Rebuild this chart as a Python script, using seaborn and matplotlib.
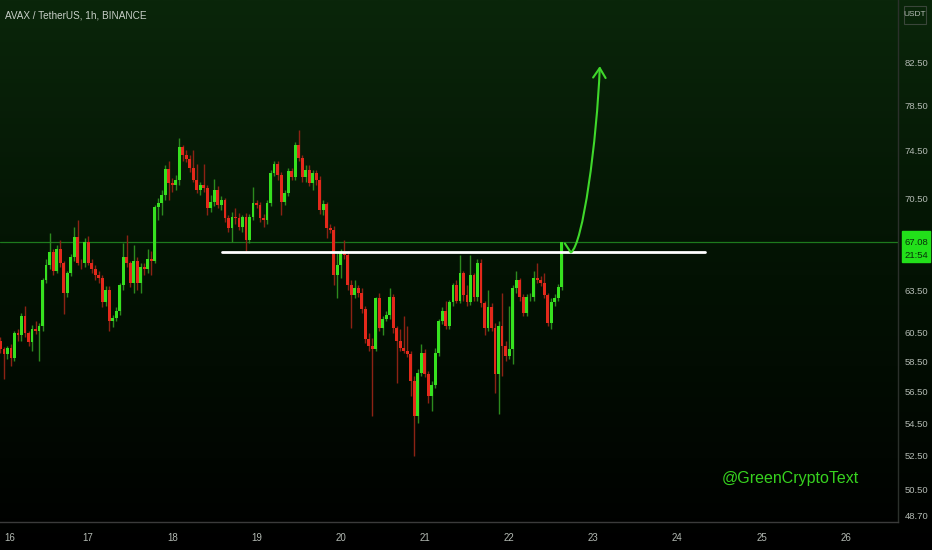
import numpy as np
import matplotlib.pyplot as plt
import seaborn as sns
from matplotlib.colors import LinearSegmentedColormap
from matplotlib.patches import FancyArrowPatch, Rectangle
from matplotlib.path import Path
from matplotlib.ticker import NullLocator

# AVAX / USDT 1h candles
first_open = 57.75
closes = [57.88, 60.47, 59.92, 59.37, 59.03, 59.44, 58.75, 60.47, 60.27, 61.67,
          60.47, 59.85, 60.75, 60.61, 60.96, 64.20, 65.32, 66.30, 64.94, 66.60,
          65.47, 63.25, 64.79, 65.92, 67.45, 65.54, 65.47, 67.07, 65.54, 65.09,
          64.57, 64.42, 62.60, 63.47, 61.31, 61.52, 62.02, 63.84, 65.92, 65.47,
          63.98, 65.69, 63.98, 65.17, 65.09, 65.84, 65.69, 69.82, 70.15, 70.79,
          72.94, 71.77, 71.61, 72.02, 74.81, 74.12, 73.85, 73.02, 72.02, 71.20,
          71.61, 71.36, 69.74, 70.23, 71.20, 69.99, 70.39, 68.95, 68.16, 69.03,
          68.95, 68.24, 69.03, 67.22, 69.03, 70.15, 69.99, 68.95, 68.79, 70.15,
          72.61, 73.43, 72.45, 70.23, 70.96, 72.78, 72.28, 74.98, 73.94, 72.28,
          72.86, 71.77, 72.61, 72.02, 69.58, 70.07, 68.16, 68.00, 64.57, 65.32,
          66.30, 66.07, 63.84, 63.11, 63.62, 63.32, 62.16, 60.06, 59.58, 59.37,
          62.89, 60.82, 61.45, 61.74, 63.03, 60.82, 59.92, 59.44, 59.23, 59.03,
          57.22, 54.96, 57.75, 59.09, 57.68, 56.25, 56.96, 59.09, 61.31, 62.02,
          60.96, 62.60, 63.84, 62.74, 64.72, 63.11, 62.60, 64.57, 62.96, 65.54,
          62.53, 60.82, 62.31, 60.82, 57.68, 60.96, 59.58, 58.89, 59.37, 63.62,
          64.20, 62.96, 61.88, 62.96, 63.03, 64.35, 64.20, 64.05, 63.11, 61.17,
          62.60, 62.89, 63.69, 67.08]
highs = [58.22, 60.75, 62.16, 60.20, 59.51, 59.58, 59.71, 60.61, 60.75, 61.88,
         62.38, 60.61, 61.03, 61.31, 61.17, 64.35, 65.84, 67.77, 66.60, 66.84,
         67.22, 65.69, 64.94, 66.15, 68.24, 68.79, 65.84, 67.38, 67.53, 65.84,
         65.32, 64.94, 64.64, 63.76, 63.76, 61.74, 62.31, 64.05, 66.99, 67.61,
         65.69, 66.84, 65.99, 65.54, 65.54, 66.60, 66.45, 69.99, 70.55, 71.20,
         73.27, 73.68, 72.19, 72.45, 75.59, 74.98, 74.55, 74.12, 74.55, 73.43,
         71.86, 73.43, 71.61, 70.79, 72.11, 71.53, 70.71, 70.55, 69.19, 69.42,
         69.74, 69.34, 69.19, 69.34, 69.26, 71.45, 70.39, 70.23, 69.26, 70.39,
         72.86, 73.68, 73.68, 72.69, 71.20, 73.02, 73.02, 75.24, 76.30, 74.12,
         73.27, 73.27, 72.86, 72.86, 72.36, 70.39, 70.23, 68.47, 68.32, 66.45,
         66.60, 67.22, 66.45, 64.20, 64.20, 63.84, 63.62, 62.38, 60.47, 60.13,
         63.03, 63.25, 61.67, 62.02, 63.62, 63.18, 60.96, 60.75, 61.67, 60.96,
         59.23, 57.55, 58.01, 59.71, 59.37, 57.88, 57.22, 59.44, 61.45, 62.31,
         62.74, 62.81, 64.05, 64.20, 66.07, 64.94, 63.84, 66.07, 64.79, 65.84,
         65.84, 62.74, 63.47, 62.53, 61.17, 61.31, 63.32, 59.92, 62.38, 63.84,
         64.94, 64.35, 63.18, 63.18, 63.25, 64.94, 65.54, 64.50, 64.72, 63.32,
         62.89, 63.18, 63.91, 67.12]
lows = [56.90, 57.75, 59.78, 59.09, 57.35, 58.69, 58.22, 58.55, 59.92, 59.92,
        60.20, 59.58, 59.23, 60.40, 58.55, 60.61, 64.05, 65.09, 64.57, 64.79,
        65.24, 61.81, 63.03, 64.50, 65.69, 65.32, 65.09, 65.24, 65.39, 64.79,
        64.20, 64.05, 62.31, 62.38, 60.61, 60.89, 61.31, 61.74, 63.47, 65.24,
        63.69, 63.25, 63.47, 63.32, 64.57, 64.79, 64.57, 65.54, 68.79, 69.19,
        70.39, 70.39, 71.04, 71.20, 71.61, 73.68, 73.52, 72.69, 71.86, 70.96,
        70.79, 71.04, 69.19, 69.42, 69.91, 69.74, 69.58, 68.63, 67.84, 67.07,
        68.47, 68.00, 67.84, 66.45, 66.99, 68.79, 69.74, 68.63, 68.24, 68.47,
        69.91, 72.36, 72.02, 69.19, 69.99, 70.71, 72.02, 72.02, 73.68, 71.86,
        71.86, 71.53, 71.20, 71.61, 69.26, 69.19, 67.38, 67.77, 63.84, 62.89,
        64.35, 65.84, 63.47, 60.82, 62.89, 63.03, 61.88, 59.78, 59.23, 54.96,
        59.23, 60.61, 60.27, 61.31, 61.45, 60.47, 57.09, 59.23, 59.09, 58.82,
        56.25, 52.49, 54.52, 57.55, 57.48, 55.79, 55.28, 56.77, 58.89, 61.10,
        60.75, 60.75, 62.38, 62.53, 62.53, 62.74, 62.38, 62.45, 62.74, 62.74,
        62.31, 60.27, 60.61, 60.61, 56.44, 55.09, 57.55, 58.55, 58.69, 58.35,
        63.32, 62.74, 61.67, 61.67, 62.74, 62.74, 63.98, 63.76, 62.89, 60.96,
        60.75, 62.38, 62.74, 63.47]
last_candle_day = 22.625   # day of month of the last (open) candle

day_ticks = [16, 17, 18, 19, 20, 21, 22, 23, 24, 25, 26]
price_ticks = [48.70, 50.50, 52.50, 54.50, 56.50, 58.50, 60.50, 63.50,
               70.50, 74.50, 78.50, 82.50]
last_price = 67.08
countdown = "21:54"

# drawn annotations
support_days = [18.59, 24.33]
support_level = [66.30, 66.30]
arrow_days = [22.663, 22.734, 22.877, 23.043, 23.078]
arrow_prices = [66.99, 66.30, 66.84, 75.41, 82.12]

title = "AVAX / TetherUS, 1h, BINANCE"
watermark = "@GreenCryptoText"

# ------------------------------------------------------------------
sns.set_theme(style="dark")
plt.rcParams["font.family"] = ["Liberation Sans", "DejaVu Sans"]

W, H = 932, 550
fig = plt.figure(figsize=(W / 100, H / 100), dpi=100)

# background gradient (dark green -> black)
bg = fig.add_axes([0, 0, 1, 1], zorder=0)
cmap = LinearSegmentedColormap.from_list("bg", ["#000000", "#031203", "#0a260a"])
bg.imshow(np.linspace(0, 1, 256).reshape(-1, 1), aspect="auto", cmap=cmap,
          extent=[0, 1, 0, 1], origin="lower")
bg.axis("off")

ax = fig.add_axes([0, 1 - 522 / H, 898 / W, 522 / H], zorder=1)
ax.patch.set_alpha(0)
ax.set_yscale("log")
ax.set_ylim(48.65, 88.6)
ax.set_xlim(15.953, 26.62)
ax.grid(False)

o = np.array([first_open] + closes[:-1])
c = np.array(closes)
h = np.array(highs)
l = np.array(lows)
days = last_candle_day - np.arange(len(c))[::-1] / 24
up = c >= o

wick_col = np.where(up, "#2c8a1e", "#8c2214")
body_col = np.where(up, "#36e11f", "#e3291b")
ax.vlines(days, l, h, colors=wick_col, lw=1, zorder=2)
bottom = np.minimum(o, c)
height = np.maximum(np.abs(c - o), 0.05)
ax.bar(days, height, bottom=bottom, width=0.82 / 24, color=body_col,
       linewidth=0, zorder=3)

# last price line
ax.axhline(last_price, color="#1d7a1d", lw=0.9, zorder=1)

# support line
sns.lineplot(x=support_days, y=support_level, color="white", lw=2, ax=ax, zorder=4)

# projected move arrow
verts = list(zip(arrow_days, arrow_prices))
codes = [Path.MOVETO, Path.LINETO, Path.CURVE4, Path.CURVE4, Path.CURVE4]
arrow = FancyArrowPatch(path=Path(verts, codes),
                        arrowstyle="->,head_length=0.7,head_width=0.45",
                        mutation_scale=10, color="#3fd82b", lw=1.5, zorder=5)
ax.add_patch(arrow)

# axes cosmetics
ax.yaxis.tick_right()
ax.set_yticks(price_ticks)
ax.set_yticklabels([f"{v:.2f}" for v in price_ticks])
ax.yaxis.set_minor_locator(NullLocator())
ax.set_xticks(day_ticks)
ax.set_xticklabels([str(d) for d in day_ticks])
ax.tick_params(axis="y", length=0, pad=5, colors="#b3bab3", labelsize=6.8)
ax.tick_params(axis="x", length=0, pad=8, colors="#b3bab3", labelsize=7)
for side in ["top", "left"]:
    ax.spines[side].set_visible(False)
ax.spines["bottom"].set_color("#3b3b3b")
ax.spines["right"].set_color("#2b302b")
ax.spines["bottom"].set_linewidth(1)
ax.spines["right"].set_linewidth(1)
ax.set_xlabel("")
ax.set_ylabel("")
# keep the cut-off bottom label and the first day label inside the canvas
ax.get_yticklabels()[0].set_va("bottom")
ax.get_xticklabels()[0].set_ha("left")

# last price tag on the price scale
tag_y = ax.transData.transform((22, last_price))[1] / H
fig.patches.append(Rectangle((902 / W, tag_y - 20 / H), 28 / W, 31 / H,
                             transform=fig.transFigure, color="#22e01a", zorder=5))
fig.text(916 / W, tag_y, f"{last_price:.2f}", color="#08300a", fontsize=6.8,
         ha="center", va="center", zorder=6)
fig.text(916 / W, tag_y - 13 / H, countdown, color="#08300a", fontsize=6.8,
         ha="center", va="center", zorder=6)

# currency box
fig.patches.append(Rectangle((904 / W, 1 - 24 / H), 22 / W, 18 / H,
                             transform=fig.transFigure, facecolor="none",
                             edgecolor="#3a463a", lw=0.8, zorder=5))
fig.text(915 / W, 1 - 15 / H, "USDT", color="#b3bab3", fontsize=6,
         ha="center", va="center", zorder=6)

fig.text(5 / W, 1 - 16 / H, title, color="#c8cfc8", fontsize=7.2,
         ha="left", va="center", zorder=6)
fig.text(790 / W, 1 - 478 / H, watermark, color="#37d21f", fontsize=11.5,
         ha="center", va="center", zorder=6)

fig.savefig("out.png", dpi=100)
